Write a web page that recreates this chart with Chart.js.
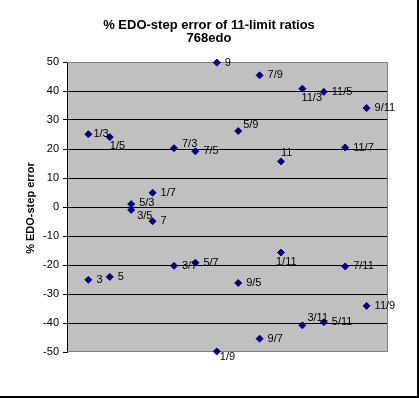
<!DOCTYPE html>
<html>
<head>
<meta charset="utf-8">
<script src="https://cdn.jsdelivr.net/npm/chart.js@4/dist/chart.umd.min.js"></script>
<style>
  html, body { margin: 0; padding: 0; background: #fff; }
  #wrap { width: 419px; height: 398px; position: relative; }
</style>
</head>
<body>
<div id="wrap"><canvas id="chart" width="419" height="398"></canvas></div>
<script>
// --- DATA ---
const chartTitle = ['% EDO-step error of 11-limit ratios', '768edo'];
const yAxisTitle = '% EDO-step error';
const yTicks = [50, 40, 30, 20, 10, 0, -10, -20, -30, -40, -50];

// column positions on the x scale (0..15)
const slots = [1, 2, 3, 4, 5, 6, 7, 8, 9, 10, 11, 12, 13, 14];

// ratios above the zero line
const upperRatios = ['1/3', '1/5', '5/3', '1/7', '7/3', '7/5', '9', '5/9', '7/9', '11', '11/3', '11/5', '11/7', '9/11'];
const upperErrors = [25.1, 24.1, 1.0, 4.9, 20.3, 19.2, 49.8, 26.2, 45.4, 15.7, 40.8, 39.7, 20.5, 34.1];

// their inverses below it
const lowerRatios = ['3', '5', '3/5', '7', '3/7', '5/7', '1/9', '9/5', '9/7', '1/11', '3/11', '5/11', '7/11', '11/9'];
const lowerErrors = [-25.1, -24.1, -1.0, -4.9, -20.3, -19.2, -49.8, -26.2, -45.4, -15.7, -40.8, -39.7, -20.5, -34.1];

// --- LABEL NUDGES (px, from the marker) ---
const upperNudge = [[5, 0], [0, 9], [8, -1], [8, 0], [8, -4], [8, 0], [8, 0], [5, -6], [8, 0], [0, -9], [-1, 9], [8, 0], [8, 0], [8, 0]];
const lowerNudge = [[8, 0], [8, 0], [6, 6], [8, 0], [8, 0], [8, 0], [3, 6], [8, 0], [8, 0], [-5, 9], [5, -7], [8, 0], [8, 0], [8, 0]];

const FONT = '"Liberation Sans", Arial, sans-serif';
const MARKER = '#000080';

function toPoints(ys) {
    return slots.map((x, i) => ({ x: x, y: ys[i] }));
}

// plot background, border, titles, outer frame
const excelLook = {
    id: 'excelLook',
    beforeDraw(chart) {
        const { ctx, chartArea: a } = chart;
        ctx.save();
        ctx.fillStyle = '#fff';
        ctx.fillRect(0, 0, chart.width, chart.height);
        ctx.fillStyle = '#c0c0c0';
        ctx.fillRect(a.left, a.top, a.right - a.left, a.bottom - a.top);
        ctx.restore();
    },
    beforeDatasetsDraw(chart) {
        const { ctx, chartArea: a } = chart;
        ctx.save();
        ctx.strokeStyle = '#808080';
        ctx.lineWidth = 1;
        ctx.beginPath();
        ctx.moveTo(a.left, a.top + 0.5);
        ctx.lineTo(a.right - 0.5, a.top + 0.5);
        ctx.lineTo(a.right - 0.5, a.bottom - 0.5);
        ctx.lineTo(a.left, a.bottom - 0.5);
        ctx.stroke();
        ctx.restore();
    },
    afterDraw(chart) {
        const { ctx } = chart;
        ctx.save();
        ctx.fillStyle = '#000';
        ctx.textAlign = 'center';
        ctx.textBaseline = 'middle';
        ctx.font = 'bold 13px ' + FONT;
        ctx.fillText(chartTitle[0], 209, 25);
        ctx.fillText(chartTitle[1], 209, 38);

        ctx.font = 'bold 11px ' + FONT;
        ctx.translate(31, 208);
        ctx.rotate(-Math.PI / 2);
        ctx.fillText(yAxisTitle, 0, 0);
        ctx.restore();

        // frame on right and bottom
        ctx.save();
        ctx.fillStyle = '#000';
        ctx.fillRect(417, 0, 2, 398);
        ctx.fillRect(0, 396, 419, 2);
        ctx.restore();
    }
};

// data labels next to each diamond
const pointLabels = {
    id: 'pointLabels',
    afterDatasetsDraw(chart) {
        const { ctx } = chart;
        const names = [upperRatios, lowerRatios];
        const nudges = [upperNudge, lowerNudge];
        ctx.save();
        ctx.fillStyle = '#000';
        ctx.font = '11px ' + FONT;
        ctx.textAlign = 'left';
        ctx.textBaseline = 'middle';
        chart.data.datasets.forEach((ds, d) => {
            chart.getDatasetMeta(d).data.forEach((pt, i) => {
                const [dx, dy] = nudges[d][i];
                ctx.fillText(names[d][i], pt.x + dx, pt.y + dy);
            });
        });
        ctx.restore();
    }
};

const pointStyle = {
    showLine: false,
    pointStyle: 'rectRot',
    pointRadius: 3.5,
    pointHoverRadius: 3.5,
    pointBackgroundColor: MARKER,
    pointBorderColor: MARKER,
    pointBorderWidth: 1,
    clip: false
};

new Chart(document.getElementById('chart'), {
    type: 'scatter',
    data: {
        datasets: [
            Object.assign({ label: 'upper', data: toPoints(upperErrors) }, pointStyle),
            Object.assign({ label: 'lower', data: toPoints(lowerErrors) }, pointStyle)
        ]
    },
    options: {
        responsive: false,
        animation: false,
        events: [],
        layout: { padding: { top: 62, right: 31, bottom: 46, left: 0 } },
        plugins: {
            legend: { display: false },
            title: { display: false },
            tooltip: { enabled: false }
        },
        scales: {
            x: { type: 'linear', min: 0, max: 15, display: false },
            y: {
                min: -50,
                max: 50,
                afterFit(scale) { scale.width = 67; },
                afterBuildTicks(scale) { scale.ticks = yTicks.map(v => ({ value: v })); },
                ticks: {
                    color: '#000',
                    padding: 4,
                    font: { family: FONT, size: 11 }
                },
                grid: {
                    color: c => (c.tick && Math.abs(c.tick.value) === 50) ? 'rgba(0,0,0,0)' : '#000',
                    tickColor: '#000',
                    tickLength: 4,
                    lineWidth: 1
                },
                border: { color: '#000', width: 1 }
            }
        }
    },
    plugins: [excelLook, pointLabels]
});
</script>
</body>
</html>
